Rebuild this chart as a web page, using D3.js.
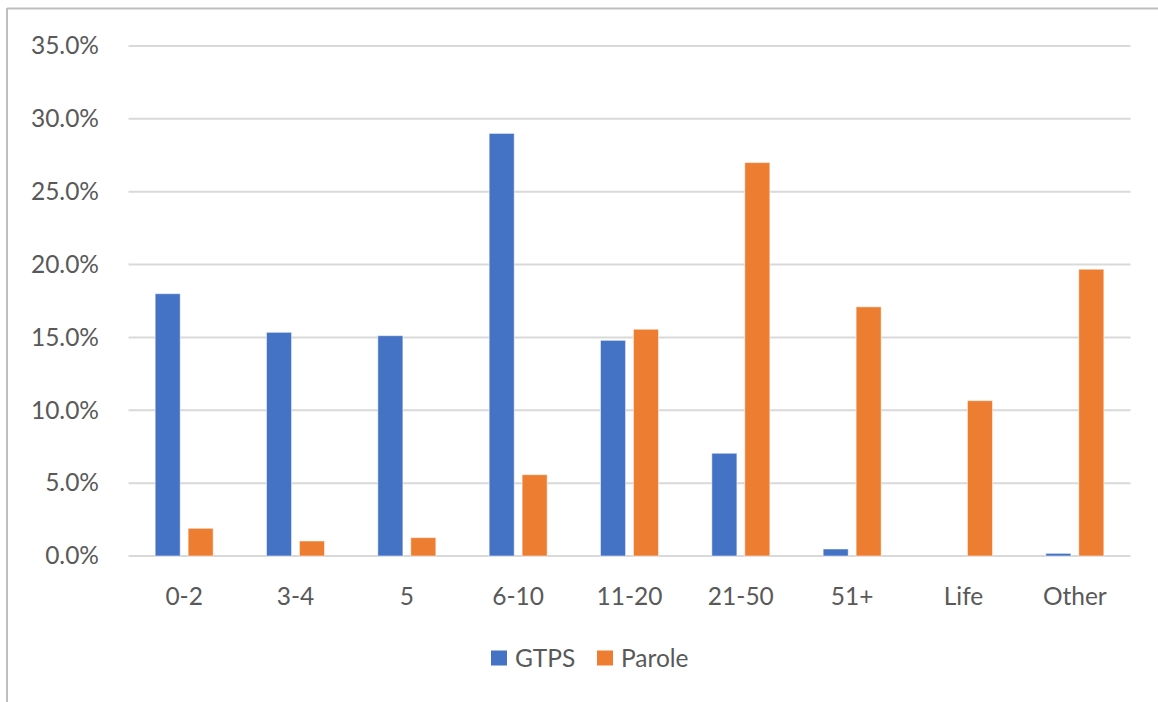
<!DOCTYPE html>
<html>
<head>
<meta charset="utf-8">
<script src="https://cdn.jsdelivr.net/npm/d3@7"></script>
<style>
  html, body { margin: 0; padding: 0; background: #fff; }
  svg { display: block; }
  text { font-family: Lato, "Open Sans", sans-serif; fill: #595959; }
</style>
</head>
<body>
<script>
const categories = ["0-2", "3-4", "5", "6-10", "11-20", "21-50", "51+", "Life", "Other"];
const seriesNames = ["GTPS", "Parole"];
const gtps   = [0.180, 0.1535, 0.1512, 0.290, 0.148, 0.0705, 0.0048, 0.0, 0.0018];
const parole = [0.019, 0.0103, 0.0126, 0.0558, 0.1556, 0.270, 0.171, 0.1066, 0.1968];
const yTicks = [0, 0.05, 0.10, 0.15, 0.20, 0.25, 0.30, 0.35];
const colors = ["#4472C4", "#ED7D31"];

(function () {
const W = 1158, H = 702;
const svg = d3.select("body").append("svg").attr("width", W).attr("height", H);

// frame lines (top and left)
svg.append("line").attr("x1", 7).attr("x2", W).attr("y1", 8.5).attr("y2", 8.5)
  .attr("stroke", "#bfbfbf").attr("stroke-width", 2);
svg.append("line").attr("x1", 7).attr("x2", 7).attr("y1", 8).attr("y2", H)
  .attr("stroke", "#bfbfbf").attr("stroke-width", 2);

const pLeft = 128.5, pRight = 1130.5, pTop = 46, pBottom = 556;
const fs = 24.5;

const x0 = d3.scaleBand().domain(categories).range([pLeft, pRight]).padding(0);
const y = d3.scaleLinear().domain([0, 0.35]).range([pBottom, pTop]);
const groupW = 58;
const x1 = d3.scaleBand().domain(seriesNames).range([0, groupW]).paddingInner(0.24).paddingOuter(0);

// gridlines
svg.append("g").selectAll("line").data(yTicks).join("line")
  .attr("x1", pLeft).attr("x2", pRight)
  .attr("y1", d => y(d)).attr("y2", d => y(d))
  .attr("stroke", "#d9d9d9").attr("stroke-width", 2);

// y axis labels
const yAxis = d3.axisLeft(y).tickValues(yTicks).tickFormat(d3.format(".1%")).tickSize(0).tickPadding(0);
const gy = svg.append("g").attr("transform", "translate(99,0)").call(yAxis);
gy.select(".domain").remove();
gy.selectAll("text").attr("font-size", fs).attr("fill", "#595959")
  .style("font-family", "Lato, 'Open Sans', sans-serif");

// x axis labels
const xAxis = d3.axisBottom(x0).tickSize(0).tickPadding(0);
const gx = svg.append("g").attr("transform", "translate(0,596)").call(xAxis);
gx.select(".domain").remove();
gx.selectAll("text").attr("font-size", fs).attr("fill", "#595959").attr("dy", "0.35em")
  .style("font-family", "Lato, 'Open Sans', sans-serif");

// bars
const data = categories.map((c, i) => ({ cat: c, vals: [gtps[i], parole[i]] }));
const groups = svg.append("g").selectAll("g").data(data).join("g")
  .attr("transform", d => `translate(${x0(d.cat) + x0.bandwidth() / 2 - groupW / 2},0)`);
groups.selectAll("rect").data(d => d.vals.map((v, k) => ({ s: seriesNames[k], v, k })).filter(d => d.v > 0))
  .join("rect")
  .attr("x", d => x1(d.s))
  .attr("width", x1.bandwidth())
  .attr("y", d => y(d.v))
  .attr("height", d => pBottom - y(d.v))
  .attr("fill", d => colors[d.k])
  .attr("stroke", "#ffffff").attr("stroke-opacity", 0.5).attr("stroke-width", 1);

// legend
const legend = svg.append("g").attr("transform", "translate(0,658)");
const legendItems = [{ name: "GTPS", x: 491 }, { name: "Parole", x: 597 }];
legendItems.forEach((it, i) => {
  legend.append("rect").attr("x", it.x).attr("y", -7.5).attr("width", 16).attr("height", 15)
    .attr("fill", colors[i]);
  legend.append("text").attr("x", it.x + 24).attr("y", 0).attr("dy", "0.35em")
    .attr("font-size", fs).text(it.name);
});
})();
</script>
</body>
</html>
